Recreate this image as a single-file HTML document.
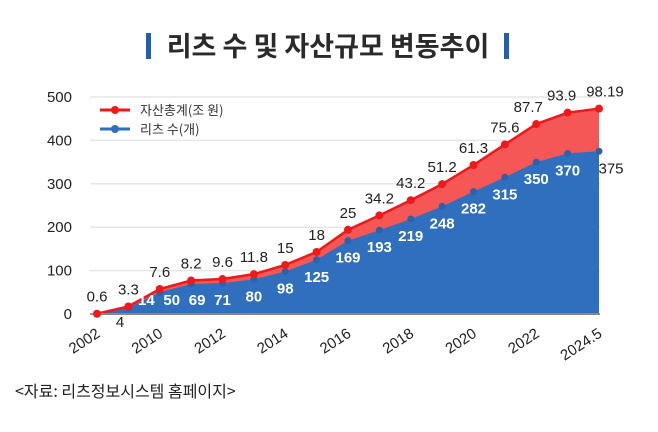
<!DOCTYPE html>
<html><head><meta charset="utf-8"><style>
html,body{margin:0;padding:0;background:#fff;}
body{width:658px;height:427px;overflow:hidden;font-family:"Liberation Sans","Noto Sans CJK KR",sans-serif;}
</style></head><body>
<svg id="chart" width="658" height="427" xmlns="http://www.w3.org/2000/svg" font-family="Liberation Sans, Noto Sans CJK KR, sans-serif">
<rect x="146" y="33" width="5" height="26" fill="#1f5fae"/>
<text x="328" y="56" text-anchor="middle" font-size="27" font-weight="bold" fill="#2a2a2a" font-family="Noto Sans CJK KR, sans-serif">리츠 수 및 자산규모 변동추이</text>
<rect x="504" y="33" width="5" height="26" fill="#1f5fae"/>
<g id="grid"></g>
<g id="areas"></g>
<g id="labels"></g>
<g>
<g>
<line x1="100" y1="110" x2="130" y2="110" stroke="#f01818" stroke-width="3"/><circle cx="115" cy="110" r="4" fill="#f01818"/>
<text x="140" y="115" font-size="13" fill="#333" font-family="Noto Sans CJK KR, sans-serif">자산총계(조 원)</text></g>
<g>
<line x1="100" y1="129" x2="130" y2="129" stroke="#2f6fbd" stroke-width="3"/><circle cx="115" cy="129" r="4" fill="#2f6fbd"/>
<text x="140" y="134" font-size="13" fill="#333" font-family="Noto Sans CJK KR, sans-serif">리츠 수(개)</text></g>
</g>
<text x="15" y="397" font-size="16" fill="#222" font-family="Noto Sans CJK KR, sans-serif">&lt;자료: 리츠정보시스템 홈페이지&gt;</text>
</svg>
<script>
const categories=["2002","2009","2010","2011","2012","2013","2014","2015","2016","2017","2018","2019","2020","2021","2022","2023","2024.5"];
const shownTicks=["2002","2010","2012","2014","2016","2018","2020","2022","2024.5"];
const reitCounts=[4,14,50,69,71,80,98,125,169,193,219,248,282,315,350,370,375];
const assetTotals=[0.6,3.3,7.6,8.2,9.6,11.8,15,18,25,34.2,43.2,51.2,61.3,75.6,87.7,93.9,98.19];
const yTicks=[0,100,200,300,400,500];
const NS="http://www.w3.org/2000/svg";
const x0=97,x1=599,yBase=314,yTop=97;
function xs(i){return x0+(x1-x0)*i/(categories.length-1);}
function ys(v){return yBase-(yBase-yTop)*v/500;}
function mk(tag,attrs,parent){const e=document.createElementNS(NS,tag);for(const k in attrs)e.setAttribute(k,attrs[k]);parent.appendChild(e);return e;}
const grid=document.getElementById('grid'),areas=document.getElementById('areas'),labels=document.getElementById('labels');
yTicks.forEach(t=>{
  const l=mk('line',{x1:90,x2:600,y1:ys(t),y2:ys(t),stroke:t===0?'#999':'#e6e6e6','stroke-width':t===0?2:1.5},grid);
  
  
  const tx=mk('text',{x:72,y:ys(t)+5,'text-anchor':'end','font-size':15,fill:'#222'},grid);
  tx.textContent=t;
  
  
});
const blueY=reitCounts.map((v,i)=>i===0?ys(0):ys(v));
const redY=reitCounts.map((v,i)=>i===0?ys(assetTotals[0]):ys(v+assetTotals[i]));
function poly(arr){return arr.map((y,i)=>xs(i)+','+y).join(' ');}
const last=categories.length-1;
const redArea=mk('polygon',{points:poly(redY)+' '+xs(last)+','+yBase+' '+x0+','+yBase,fill:'#f55757'},areas);


const blueArea=mk('polygon',{points:poly(blueY)+' '+xs(last)+','+yBase+' '+x0+','+yBase,fill:'#2f6fbd'},areas);


const redLine=mk('polyline',{points:poly(redY),fill:'none',stroke:'#f01818','stroke-width':2.5},areas);


mk('line',{x1:x0,x2:xs(last),y1:yBase,y2:yBase,stroke:'#888','stroke-width':2},areas);
categories.forEach((c,i)=>{
  const b=mk('circle',{cx:xs(i),cy:blueY[i],r:3.5,fill:'#2a62ab'},areas);
  
  
  const r=mk('circle',{cx:xs(i),cy:redY[i],r:4,fill:'#f01818'},areas);
  
  
  let ax=xs(i);
  if(i===last)ax+=6;
  if(i===last-1)ax-=6;
  if(i===last-2)ax-=8;
  const at=mk('text',{x:ax,y:redY[i]-12,'text-anchor':'middle','font-size':15,fill:'#222'},labels);
  at.textContent=assetTotals[i];
  
  
  let bx,by,fill='#fff',fw='bold';
  if(i===0){bx=xs(i)+23;by=yBase+13;fill='#222';fw='normal';}
  else if(i===last){bx=xs(i)+12;by=blueY[i]+22;fill='#222';fw='normal';}
  else{bx=xs(i)+Math.max(0,24-6*i);by=Math.min(blueY[i]+22,305);}
  const ct=mk('text',{x:bx,y:by,'text-anchor':'middle','font-size':15,'font-weight':fw,fill:fill},labels);
  ct.textContent=reitCounts[i];
  
  
  if(shownTicks.includes(c)){
    const xt=mk('text',{x:xs(i)+4,y:yBase+22,'text-anchor':'end','font-size':15,fill:'#222',transform:'rotate(-33 '+(xs(i)+4)+' '+(yBase+22)+')'},labels);
    xt.textContent=c;
    
    
  }
});
</script>
</body></html>
